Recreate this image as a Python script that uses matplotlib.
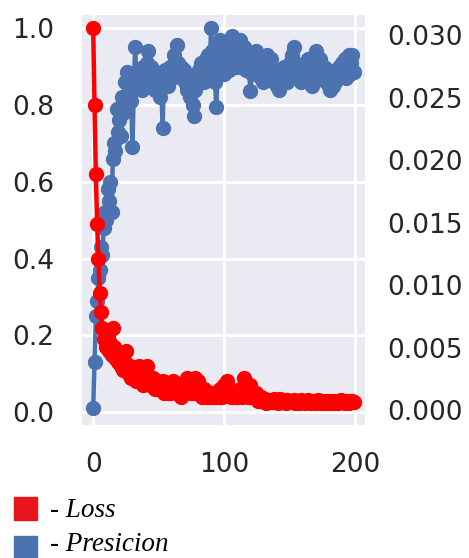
import numpy as np
import matplotlib
matplotlib.use("Agg")
import matplotlib.pyplot as plt
import seaborn as sns
from matplotlib.patches import Rectangle

# ---- data ----
loss = [
    1.00, 0.80, 0.62, 0.49, 0.40, 0.31, 0.26, 0.22, 0.19, 0.21,
    0.17, 0.20, 0.16, 0.18, 0.15, 0.22, 0.17, 0.14, 0.16, 0.13,
    0.15, 0.12, 0.14, 0.11, 0.13, 0.16, 0.12, 0.10, 0.12, 0.09,
    0.11, 0.09, 0.10, 0.08, 0.09, 0.12, 0.08, 0.09, 0.07, 0.08,
    0.10, 0.12, 0.09, 0.07, 0.08, 0.07, 0.09, 0.06, 0.07, 0.08,
    0.06, 0.07, 0.06, 0.08, 0.05, 0.06, 0.07, 0.05, 0.06, 0.05,
    0.07, 0.08, 0.06, 0.05, 0.06, 0.05, 0.06, 0.04, 0.05, 0.06,
    0.05, 0.07, 0.09, 0.06, 0.08, 0.05, 0.06, 0.05, 0.09, 0.06,
    0.08, 0.05, 0.06, 0.04, 0.05, 0.06, 0.04, 0.05, 0.04, 0.05,
    0.04, 0.05, 0.04, 0.05, 0.04, 0.05, 0.04, 0.06, 0.04, 0.05,
    0.07, 0.05, 0.08, 0.06, 0.05, 0.04, 0.05, 0.04, 0.05, 0.04,
    0.04, 0.05, 0.06, 0.05, 0.04, 0.09, 0.07, 0.06, 0.04, 0.05,
    0.07, 0.05, 0.04, 0.04, 0.05, 0.04, 0.03, 0.04, 0.04, 0.03,
    0.030, 0.035, 0.025, 0.030, 0.028, 0.032, 0.026, 0.030, 0.034, 0.027,
    0.031, 0.025, 0.029, 0.033, 0.026, 0.030, 0.028, 0.024, 0.031, 0.027,
    0.030, 0.026, 0.029, 0.032, 0.025, 0.028, 0.030, 0.024, 0.027, 0.031,
    0.026, 0.029, 0.025, 0.028, 0.032, 0.027, 0.024, 0.029, 0.026, 0.030,
    0.025, 0.028, 0.031, 0.026, 0.024, 0.029, 0.027, 0.025, 0.030, 0.026,
    0.028, 0.024, 0.027, 0.030, 0.025, 0.029, 0.026, 0.024, 0.028, 0.031,
    0.026, 0.029, 0.025, 0.027, 0.030, 0.024, 0.028, 0.026, 0.029, 0.027,
]
precision = [
    0.01, 0.13, 0.25, 0.29, 0.35, 0.37, 0.43, 0.41, 0.48, 0.52,
    0.50, 0.58, 0.55, 0.60, 0.52, 0.66, 0.70, 0.68, 0.79, 0.73,
    0.76, 0.72, 0.82, 0.78, 0.86, 0.80, 0.885, 0.83, 0.86, 0.81,
    0.69, 0.84, 0.95, 0.87, 0.89, 0.85, 0.88, 0.84, 0.90, 0.86,
    0.88, 0.91, 0.94, 0.87, 0.90, 0.86, 0.89, 0.84, 0.88, 0.86,
    0.87, 0.82, 0.85, 0.74, 0.86, 0.89, 0.87, 0.85, 0.88, 0.90,
    0.87, 0.89, 0.93, 0.90, 0.955, 0.91, 0.88, 0.90, 0.87, 0.89,
    0.86, 0.88, 0.84, 0.87, 0.82, 0.85, 0.80, 0.77, 0.84, 0.88,
    0.86, 0.89, 0.91, 0.88, 0.90, 0.86, 0.92, 0.89, 0.93, 0.90,
    1.00, 0.94, 0.89, 0.86, 0.795, 0.88, 0.92, 0.97, 0.93, 0.90,
    0.88, 0.91, 0.94, 0.92, 0.89, 0.95, 0.98, 0.93, 0.96, 0.92,
    0.90, 0.94, 0.97, 0.93, 0.91, 0.95, 0.92, 0.89, 0.93, 0.90,
    0.835, 0.88, 0.92, 0.90, 0.94, 0.91, 0.88, 0.90, 0.87, 0.89,
    0.86, 0.88, 0.91, 0.93, 0.90, 0.88, 0.92, 0.89, 0.86, 0.88,
    0.85, 0.87, 0.84, 0.86, 0.89, 0.87, 0.90, 0.88, 0.86, 0.89,
    0.91, 0.88, 0.93, 0.95, 0.91, 0.89, 0.87, 0.90, 0.88, 0.86,
    0.89, 0.87, 0.91, 0.88, 0.92, 0.89, 0.87, 0.85, 0.88, 0.91,
    0.94, 0.90, 0.88, 0.92, 0.89, 0.87, 0.90, 0.88, 0.86, 0.89,
    0.85, 0.84, 0.87, 0.85, 0.88, 0.86, 0.89, 0.87, 0.90, 0.88,
    0.91, 0.89, 0.92, 0.87, 0.90, 0.93, 0.88, 0.91, 0.93, 0.885,
]
epochs = np.arange(len(loss))

left_ticks = [0.0, 0.2, 0.4, 0.6, 0.8, 1.0]
right_ticks = [0.000, 0.005, 0.010, 0.015, 0.020, 0.025, 0.030]
x_ticks = [0, 100, 200]

RED = "#ff0000"
BLUE = "#4c72b0"
TXT = "#262626"

sns.set_style("darkgrid")
plt.rcParams["font.family"] = ["DejaVu Sans"]

fig = plt.figure(figsize=(4.69, 5.58), dpi=100)
ax = fig.add_axes([0.175, 0.238, 0.603, 0.735])

ax.plot(epochs, precision, color=BLUE, lw=3.2, marker="o", ms=10)
ax.plot(epochs, loss, color=RED, lw=3.2, marker="o", ms=10)

ax.set_xlim(-8.5, 207.5)
ax.set_ylim(-0.034, 1.034)
ax.set_xticks(x_ticks)
ax.set_yticks(left_ticks)
ax.set_yticklabels([f"{t:.1f}" for t in left_ticks])
ax.grid(True, color="white", lw=2.2)
ax.tick_params(axis="y", labelsize=19, colors=TXT, pad=20, length=0)
ax.tick_params(axis="x", labelsize=19, colors=TXT, pad=19, length=0)
for s in ax.spines.values():
    s.set_visible(False)

ax2 = ax.twinx()
ax2.set_ylim(-0.0012, 0.0316)
ax2.set_yticks(right_ticks)
ax2.set_yticklabels([f"{t:.3f}" for t in right_ticks])
ax2.grid(False)
ax2.tick_params(axis="y", labelsize=19, colors=TXT, pad=16, length=0)
for s in ax2.spines.values():
    s.set_visible(False)

# legend drawn as coloured squares with serif italic labels
fig.patches.append(Rectangle((14 / 469, 1 - 520 / 558), 23 / 469, 23 / 558,
                             transform=fig.transFigure, color="#e8141e"))
fig.patches.append(Rectangle((14 / 469, 1 - 558 / 558), 23 / 469, 22 / 558,
                             transform=fig.transFigure, color=BLUE))
fig.text(50 / 469, 1 - 517 / 558, "- Loss", family="Liberation Serif",
         style="italic", fontsize=19.5, color="black", va="baseline")
fig.text(50 / 469, 1 - 551 / 558, "- Presicion", family="Liberation Serif",
         style="italic", fontsize=19.5, color="black", va="baseline")

fig.savefig("out.png", dpi=100)
